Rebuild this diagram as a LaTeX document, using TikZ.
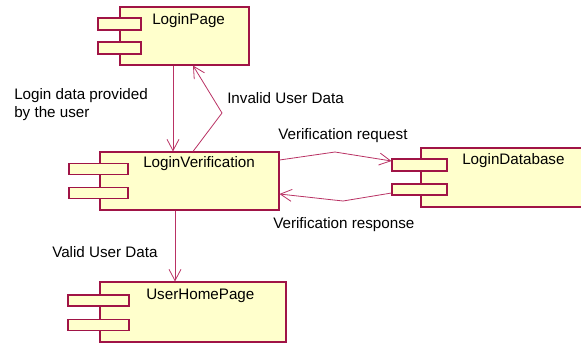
\documentclass[tikz,border=0pt]{standalone}
\usepackage{fontspec}
\setmainfont{Liberation Sans}
\usetikzlibrary{arrows.meta}
\definecolor{boxfill}{RGB}{255,255,204}
\definecolor{boxline}{RGB}{160,20,70}
\definecolor{conline}{RGB}{185,50,100}
\tikzset{
  comp/.style={draw=boxline, fill=boxfill, line width=0.8pt, inner sep=0pt, rectangle},
  port/.style={draw=boxline, fill=boxfill, line width=0.8pt, inner sep=0pt, rectangle},
  lbl/.style={anchor=base west, inner sep=0pt, font=\fontsize{11.4}{13.5}\selectfont},
  conn/.style={draw=conline, line width=0.6pt, -{Straight Barb[length=8.5pt,width=9pt]}},
}
\begin{document}
\begin{tikzpicture}[x=0.75pt,y=-0.75pt]
\useasboundingbox (0,0) rectangle (581,344);
% components
\node[comp, minimum width={129*0.75pt}, minimum height={58*0.75pt}] (lp) at (184.5,36) {};
\node[comp, minimum width={179*0.75pt}, minimum height={58*0.75pt}] (lv) at (189.5,181) {};
\node[comp, minimum width={179*0.75pt}, minimum height={59*0.75pt}] (ld) at (510.5,177.5) {};
\node[comp, minimum width={186*0.75pt}, minimum height={60*0.75pt}] (uh) at (193,312) {};
% ports
\node[port, minimum width={43*0.75pt}, minimum height={12*0.75pt}] (lpa) at (119.5,24) {};
\node[port, minimum width={43*0.75pt}, minimum height={12*0.75pt}] (lpb) at (119.5,48) {};
\node[port, minimum width={59*0.75pt}, minimum height={11*0.75pt}] (lva) at (98.5,169) {};
\node[port, minimum width={59*0.75pt}, minimum height={11*0.75pt}] (lvb) at (98.5,193) {};
\node[port, minimum width={55*0.75pt}, minimum height={12*0.75pt}] (lda) at (419.5,165) {};
\node[port, minimum width={55*0.75pt}, minimum height={11*0.75pt}] (ldb) at (419.5,189.5) {};
\node[port, minimum width={61*0.75pt}, minimum height={11*0.75pt}] (uha) at (98.5,300.5) {};
\node[port, minimum width={61*0.75pt}, minimum height={11*0.75pt}] (uhb) at (98.5,325) {};
% titles
\node[lbl] (tlp) at (152,24) {LoginPage};
\node[lbl] (tlv) at (143,167) {LoginVerification};
\node[lbl] (tld) at (462,164) {LoginDatabase};
\node[lbl] (tuh) at (146,299) {UserHomePage};
% labels
\node[lbl] (l1) at (14,99) {Login data provided};
\node[lbl] (l2) at (14,117) {by the user};
\node[lbl] (l3) at (227,103) {Invalid User Data};
\node[lbl] (l4) at (278,139) {Verification request};
\node[lbl] (l5) at (273,228) {Verification response};
\node[lbl] (l6) at (52,257) {Valid User Data};
% bends
\coordinate (b1) at (222,113);
\coordinate (b2) at (335,152);
\coordinate (b3) at (343,201);
% connectors
\draw[conn] (173,0 |- lp.south) -- (173,0 |- lv.north);
\draw[conn] (193,0 |- lv.north) -- (b1) -- (193,0 |- lp.south);
\draw[conn] (lv.east |- 0,160) -- (b2) -- (lda.west |- 0,161);
\draw[conn] (ldb.west |- 0,193) -- (b3) -- (lv.east |- 0,194);
\draw[conn] (175,0 |- lv.south) -- (175,0 |- uh.north);
\end{tikzpicture}
\end{document}
